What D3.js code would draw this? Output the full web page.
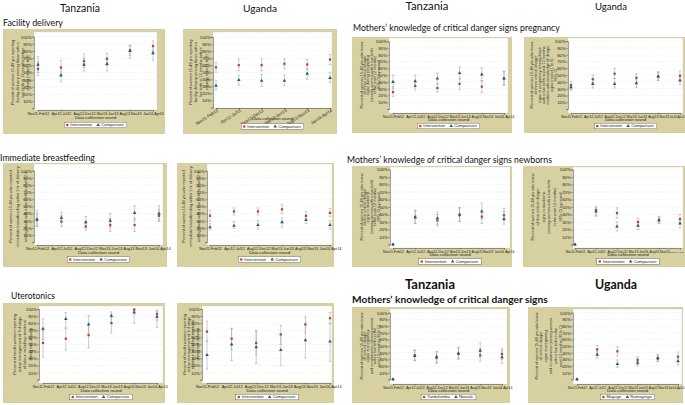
<!DOCTYPE html>
<html><head><meta charset="utf-8">
<script src="https://cdn.jsdelivr.net/npm/d3@7"></script>
<style>body{margin:0;background:#fff}svg{display:block}</style>
</head><body>
<script>
// ---------------- DATA ----------------
const roundsTZ = ["Nov11-Feb12","Apr12-Jul12","Aug12-Dec12","Mar13-Jun13","Aug13-Nov13","Jan14-Apr14"];
const roundsUG = ["Nov11-Feb12","Apr12-Jul12","Sep12-Dec12","Mar13-Jun13","Aug13-Nov13","Jan14-Apr14"];
const yTickValues = [0,10,20,30,40,50,60,70,80,90,100];
const yTickLabels = ["","10%","20%","30%","40%","50%","60%","70%","80%","90%","100%"];
const legendStudy = ["Intervention","Comparison"];
const legendTZ = ["Tandahimba","Newala"];
const legendUG = ["Mayuge","Namayingo"];

// [estimate, lower CI, upper CI] per round
const facTzInt = [[55,46,65],[57,47,67],[66,57,76],[69,60,77],[81,74,88],[87,79,94]];
const facTzCmp = [[61,50,72],[46,37,56],[61,52,70],[62,52,71],[80,70,88],[77,67,86]];
const facUgInt = [[57,50,64],[60,52,69],[60,52,69],[62,55,69],[61,54,68],[68,61,75]];
const facUgCmp = [[31,25,38],[39,32,46],[38,30,47],[38,31,46],[48,40,55],[42,35,50]];
const bfTzInt = [[31,22,40],[29,22,37],[22,17,27],[24,15,33],[24,15,33],[37,29,46]];
const bfTzCmp = [[32,22,45],[34,27,42],[28,21,36],[30,21,40],[41,31,51],[40,31,51]];
const bfUgInt = [[37,29,45],[43,38,48],[43,38,48],[46,40,53],[37,32,43],[41,36,47]];
const bfUgCmp = [[21,17,26],[23,19,29],[24,18,30],[28,21,34],[31,26,36],[24,18,30]];
const utTzInt = [[52,32,70],[58,42,73],[63,45,80],[80,66,93],[99,96,100],[93,84,98]];
const utTzCmp = [[72,57,86],[86,73,95],[78,66,91],[90,80,96],[95,80,100],[89,74,97]];
const utUgInt = [[68,54,83],[58,43,73],[52,35,70],[64,50,77],[78,66,89],[87,79,95]];
const utUgCmp = [[35,15,55],[50,27,72],[46,23,68],[42,20,64],[56,31,80],[54,26,80]];
const pgTzInt = [[25,18,33],[34,28,41],[31,25,37],[37,29,45],[33,24,42],[45,35,56]];
const pgTzCmp = [[40,30,50],[41,33,50],[45,37,53],[53,44,62],[51,41,61],[45,36,55]];
const pgUgInt = [[35,29,41],[44,39,50],[52,45,60],[46,40,52],[48,42,55],[49,44,56]];
const pgUgCmp = [[32,28,37],[37,31,44],[37,31,45],[38,32,44],[48,42,54],[42,36,48]];
const nbTzInt = [[0,0,0],[37,28,46],[32,25,40],[39,31,49],[37,28,46],[39,32,48]];
const nbTzCmp = [[0,0,0],[36,28,45],[35,27,43],[40,31,49],[44,34,55],[34,27,44]];
const nbUgInt = [[0,0,0],[46,38,51],[42,35,49],[30,25,35],[33,28,37],[34,29,40]];
const nbUgCmp = [[0,0,0],[44,38,49],[24,18,30],[25,20,30],[32,28,37],[28,22,33]];
const dsTzInt = [[0,0,0],[36,28,44],[32,24,41],[38,30,47],[36,27,46],[38,30,46]];
const dsTzCmp = [[0,0,0],[35,28,44],[34,25,42],[39,31,48],[43,33,55],[33,24,44]];
const dsUgInt = [[0,0,0],[45,38,51],[42,35,49],[29,22,34],[31,27,37],[34,28,41]];
const dsUgCmp = [[0,0,0],[37,32,42],[23,18,29],[25,20,31],[32,27,37],[27,22,32]];

const yTitleFac = ["Percent of women 15-49 yrs reporting","facility delivery among those with a","live birth in 12 months before","survey (round 1 to 6)"];
const yTitleBf = ["Percent of women 15-49 yrs who reported","immediate breastfeeding within 1 hr of delivery","among those with a live birth in past 12 m"];
const yTitleUt = ["Percent of health workers reporting","active management of 3rd stage","of labour including uterotonic","during last delivery"];
const yTitlePgTz = ["Percent of women 15-49 yrs who knew","all three critical danger","signs during pregnancy","(among women with a live birth","in the past 12 months)","95% CI by round"];
const yTitlePgUg = ["Percent of women 15-49 yrs who knew","all three critical danger","signs in pregnancy among those","with a live birth in past 12 months","mothers with knowledge of danger","signs (round 1 to 6)","95% CI"];
const yTitleNb = ["Percent of women 15-49 yrs who knew","all four critical danger","signs in newborns","(among women with a live birth","in the past 12 months)","95% CI by round"];
const yTitleDs = ["Percent of women 15-49 yrs who knew","all critical danger","signs in pregnancy","and in newborns (among women","with a live birth in the","past 12 months) 95% CI"];

// ---------------- LAYOUT ----------------
const W = 685, H = 405;
const colInt = "#c43c2c", colCmp = "#1f5f80", bgCol = "#d7d0a0";
const panels = [
  {bg:[3,29,162,105], plot:[34,32,157,110], yr:[108.3,36.7], xr:[38,153], rounds:roundsTZ, a:facTzInt, b:facTzCmp, lab:legendStudy, yt:yTitleFac, lx:[12,27], xl:114, lg:125, rot:false},
  {bg:[183,29,154,105], plot:[213,32,332,108], yr:[107.5,37], xr:[216,330], rounds:roundsUG, a:facUgInt, b:facUgCmp, lab:legendStudy, yt:yTitleFac, lx:[190,206], xl:116, lg:126.5, rot:true},
  {bg:[3,163,164,104], plot:[34,164,163,245], yr:[242.2,170.7], xr:[37,159], rounds:roundsTZ, a:bfTzInt, b:bfTzCmp, lab:legendStudy, yt:yTitleBf, lx:[10,25], xl:249, lg:259.5, rot:false},
  {bg:[177,163,157,104], plot:[207,164,332,245], yr:[242.2,170.7], xr:[210,330], rounds:roundsTZ, a:bfUgInt, b:bfUgCmp, lab:legendStudy, yt:yTitleBf, lx:[183,198], xl:249, lg:259.5, rot:false},
  {bg:[3,303,162,100], plot:[39,306,163,383], yr:[379.7,309], xr:[43,157], rounds:roundsTZ, a:utTzInt, b:utTzCmp, lab:legendStudy, yt:yTitleUt, lx:[14,30], xl:387, lg:397, rot:false},
  {bg:[177,303,157,100], plot:[202,306,332,383], yr:[379.7,309], xr:[207,330], rounds:roundsTZ, a:utUgInt, b:utUgCmp, lab:legendStudy, yt:yTitleUt, lx:[184,197], xl:387, lg:397, rot:false},
  {bg:[352,37,160,96], plot:[389,38,508,113], yr:[109,41.2], xr:[393,504], rounds:roundsTZ, a:pgTzInt, b:pgTzCmp, lab:legendStudy, yt:yTitlePgTz, lx:[361,378], xl:116.5, lg:126, rot:false},
  {bg:[524,37,161,96], plot:[568,38,683,113], yr:[109,41.2], xr:[571,680], rounds:roundsTZ, a:pgUgInt, b:pgUgCmp, lab:legendStudy, yt:yTitlePgUg, lx:[531,555], xl:116.5, lg:126, rot:false},
  {bg:[352,166,160,101], plot:[390,167,510,248], yr:[244.5,169.5], xr:[393,504], rounds:roundsTZ, a:nbTzInt, b:nbTzCmp, lab:legendStudy, yt:yTitleNb, lx:[361,378], xl:251.5, lg:261.5, rot:false},
  {bg:[523,166,162,101], plot:[573,167,683,248], yr:[244.5,169.5], xr:[575,680], rounds:roundsTZ, a:nbUgInt, b:nbUgCmp, lab:legendStudy, yt:yTitleNb, lx:[532,560], xl:251.5, lg:261.5, rot:false},
  {bg:[352,307,158,96], plot:[390,309,507,384], yr:[379.3,312.7], xr:[393,502], rounds:roundsTZ, a:dsTzInt, b:dsTzCmp, lab:legendTZ, yt:yTitleDs, lx:[361,378], xl:387.5, lg:397, rot:false},
  {bg:[528,307,155,96], plot:[573,309,682,384], yr:[379.3,312.7], xr:[577,678], rounds:roundsTZ, a:dsUgInt, b:dsUgCmp, lab:legendUG, yt:yTitleDs, lx:[536,560], xl:387.5, lg:397, rot:false}
];

const svg = d3.select("body").append("svg").attr("width", W).attr("height", H)
  .style("font-family", "Lato, 'Open Sans', sans-serif");
svg.append("rect").attr("width", W).attr("height", H).attr("fill", "#fff");

function fit(sel, w) {
  const n = sel.node(); const fs = parseFloat(sel.attr("font-size"));
  const len = n.getComputedTextLength();
  if (len > 0) sel.attr("font-size", (fs * w / len).toFixed(2));
  return sel;
}
function label(x, y, txt, fs, w, opts = {}) {
  const t = svg.append("text").attr("x", x).attr("y", y).attr("font-size", fs)
    .attr("fill", "#111").attr("font-weight", opts.bold ? "bold" : "normal")
    .attr("text-anchor", opts.anchor || "start").text(txt);
  fit(t, w);
  return t;
}
label(80, 12, "Tanzania", 13, 40, {anchor:"middle"});
label(260, 12, "Uganda", 13, 34, {anchor:"middle"});
label(3, 25.5, "Facility delivery", 10, 60);
label(0, 161, "Immediate breastfeeding", 10, 95);
label(11, 299, "Uterotonics", 10, 44);
label(427, 10, "Tanzania", 13, 43, {anchor:"middle"});
label(611, 10, "Uganda", 13, 32, {anchor:"middle"});
label(353, 31, "Mothers\u2019 knowledge of critical danger signs pregnancy", 9, 207);
label(347, 163, "Mothers\u2019 knowledge of critical danger signs newborns", 9, 205);
label(430, 289, "Tanzania", 13, 50, {anchor:"middle", bold:true});
label(616, 289, "Uganda", 13, 42, {anchor:"middle", bold:true});
label(352, 302.5, "Mothers\u2019 knowledge of critical danger signs", 10, 196, {bold:true});

const tf = "'Liberation Sans', Arial, sans-serif";
const mkInt = [d3.symbolSquare, 5], mkCmp = [d3.symbolTriangle, 5.5];
panels.forEach(p => {
  const g = svg.append("g");
  const [bx, by, bw, bh] = p.bg;
  const [px0, py0, px1, py1] = p.plot;
  g.append("rect").attr("x", bx).attr("y", by).attr("width", bw).attr("height", bh).attr("fill", bgCol);
  g.append("rect").attr("x", px0).attr("y", py0).attr("width", px1 - px0).attr("height", py1 - py0)
    .attr("fill", "#fff").attr("stroke", "#d0d0d0").attr("stroke-width", 0.4);

  const y = d3.scaleLinear().domain([0, 100]).range(p.yr);
  const x = d3.scalePoint().domain(p.rounds).range(p.xr);

  g.selectAll(null).data(yTickValues.filter(v => v > 0)).join("line")
    .attr("x1", px0).attr("x2", px1).attr("y1", d => y(d)).attr("y2", d => y(d))
    .attr("stroke", "#e2e5ea").attr("stroke-width", 0.5).attr("stroke-dasharray", "1.2,1");

  const ya = d3.axisLeft(y).tickValues(yTickValues).tickFormat((d, i) => yTickLabels[i]).tickSize(1.6).tickPadding(0.6);
  const yg = g.append("g").attr("transform", `translate(${px0},0)`).call(ya);
  yg.select(".domain").attr("stroke", "#444").attr("stroke-width", 0.5);
  yg.selectAll(".tick line").attr("stroke", "#444").attr("stroke-width", 0.5);
  yg.selectAll(".tick text").attr("font-size", 4.3).attr("font-family", tf).attr("fill", "#222");

  const xa = d3.axisBottom(x).tickSize(1.4).tickPadding(0.8);
  const xg = g.append("g").attr("transform", `translate(0,${py1})`).call(xa);
  xg.select(".domain").attr("stroke", "#444").attr("stroke-width", 0.5);
  xg.selectAll(".tick line").attr("stroke", "#444").attr("stroke-width", 0.5);
  const xt = xg.selectAll(".tick text").attr("font-size", 4.3).attr("font-family", tf).attr("fill", "#222");
  let dcrY;
  if (p.rot) {
    xt.attr("text-anchor", "end").attr("dy", 0).attr("y", 0)
      .attr("transform", "translate(2,3.2) rotate(-33)");
    dcrY = p.xl + 4.3;
  } else {
    const step = x.step();
    let maxLen = 0;
    xt.each(function() { maxLen = Math.max(maxLen, this.getComputedTextLength()); });
    const fs = 4.3 * Math.min(1, (step - 0.8) / maxLen);
    let prevRight = -Infinity;
    xt.attr("y", 0).attr("dy", 0).attr("font-size", fs.toFixed(2))
      .attr("transform", `translate(0,${p.xl - py1 + 1.2})`)
      .each(function(d) {
        const t = d3.select(this);
        const len = this.getComputedTextLength();
        const cx = x(d);
        if (cx + len / 2 > W - 1) {
          const avail = (W - 1) - (prevRight + 0.5);
          if (len > avail) t.attr("font-size", (fs * avail / len).toFixed(2));
          t.attr("text-anchor", "end").attr("x", (W - 1) - cx);
          prevRight = W - 1;
        } else {
          prevRight = cx + len / 2;
        }
      });
    dcrY = p.xl + 1.2 + 3.7;
  }
  g.append("text").attr("x", (px0 + px1) / 2).attr("y", dcrY).attr("text-anchor", "middle")
    .attr("font-size", 4.4).attr("font-family", tf).attr("fill", "#222").text("Data collection round");

  const n = p.yt.length;
  const cy = (p.yr[0] + p.yr[1]) / 2;
  p.yt.forEach((ln, i) => {
    const lxp = n === 1 ? p.lx[0] : p.lx[0] + (p.lx[1] - p.lx[0]) * i / (n - 1);
    g.append("text").attr("transform", `translate(${lxp + 1.5},${cy}) rotate(-90)`)
      .attr("text-anchor", "middle").attr("font-size", 3.9).attr("font-family", tf)
      .attr("fill", "#333").text(ln);
  });

  const series = [{d: p.a, c: colInt, mk: mkInt}, {d: p.b, c: colCmp, mk: mkCmp}];
  series.forEach(s => {
    const ci = s.d.map((v, i) => ({r: p.rounds[i], m: v[0], lo: v[1], hi: v[2]})).filter(v => v.hi > v.lo);
    g.selectAll(null).data(ci).join("line")
      .attr("x1", d => x(d.r)).attr("x2", d => x(d.r)).attr("y1", d => y(d.lo)).attr("y2", d => y(d.hi))
      .attr("stroke", "#a3a3a3").attr("stroke-width", 0.55);
    ["lo", "hi"].forEach(k => {
      g.selectAll(null).data(ci).join("line")
        .attr("x1", d => x(d.r) - 1.3).attr("x2", d => x(d.r) + 1.3).attr("y1", d => y(d[k])).attr("y2", d => y(d[k]))
        .attr("stroke", "#a3a3a3").attr("stroke-width", 0.55);
    });
  });
  series.forEach(s => {
    const pts = s.d.map((v, i) => ({r: p.rounds[i], m: v[0]}));
    g.selectAll(null).data(pts).join("path")
      .attr("transform", d => `translate(${x(d.r)},${y(d.m)})`)
      .attr("d", d3.symbol().type(s.mk[0]).size(s.mk[1])).attr("fill", s.c);
  });

  const lh = 5.6, lcx = (px0 + px1) / 2;
  const lg = g.append("g");
  const box = lg.append("rect").attr("height", lh).attr("fill", "#fff").attr("stroke", "#555").attr("stroke-width", 0.4);
  let ox = 3;
  [[colInt, mkInt], [colCmp, mkCmp]].forEach((m, i) => {
    lg.append("path").attr("transform", `translate(${ox},${lh / 2})`).attr("d", d3.symbol().type(m[1][0]).size(m[1][1])).attr("fill", m[0]);
    const t = lg.append("text").attr("x", ox + 3).attr("y", lh / 2 + 1.5).attr("font-size", 4.2).attr("font-family", tf)
      .attr("fill", "#222").text(p.lab[i]);
    ox += 3 + t.node().getComputedTextLength() + 6;
  });
  const lw = ox - 3;
  box.attr("width", lw);
  lg.attr("transform", `translate(${lcx - lw / 2},${p.lg - lh / 2})`);
});
</script>
</body></html>
